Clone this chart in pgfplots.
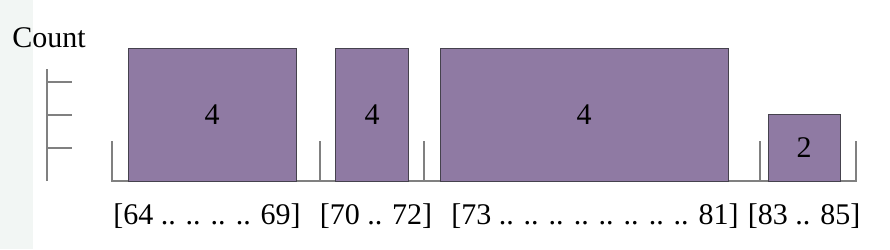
\documentclass[border=0pt]{standalone}
\usepackage{pgfplots}
\pgfplotsset{compat=1.18}
\usepackage{fontspec}
\setmainfont{Liberation Serif}
\definecolor{barfill}{HTML}{8F7AA3}
\definecolor{bardraw}{HTML}{45424D}
\definecolor{axgray}{HTML}{808080}
\definecolor{strip}{HTML}{F2F6F4}
\newcommand{\bigf}{\fontsize{30}{36}\selectfont}
\begin{document}
\begin{tikzpicture}
\begin{axis}[
  scale only axis, width=890pt, height=249pt,
  xmin=0, xmax=890, ymin=-2.0606, ymax=5.4848,
  hide axis, clip=false,
]
% background and left strip
\fill[white] (rel axis cs:0,0) rectangle (rel axis cs:1,1);
\fill[strip] (rel axis cs:0,0) rectangle (axis cs:33,5.4848);
% y axis (no labels)
\addplot[axgray, line width=1.1pt] coordinates {(47,0) (47,3.39)};
\addplot[axgray, line width=1.1pt] coordinates {(47,1) (72,1)};
\addplot[axgray, line width=1.1pt] coordinates {(47,2) (72,2)};
\addplot[axgray, line width=1.1pt] coordinates {(47,3) (72,3)};
% baseline and group separators
\addplot[axgray, line width=1.1pt] coordinates {(112,1.21) (112,0) (856,0) (856,1.21)};
\addplot[axgray, line width=1.1pt] coordinates {(320,0) (320,1.21)};
\addplot[axgray, line width=1.1pt] coordinates {(424,0) (424,1.21)};
\addplot[axgray, line width=1.1pt] coordinates {(760,0) (760,1.21)};
% bars
\addplot[fill=barfill, draw=bardraw, line width=1pt] coordinates {(128,0) (128,4) (296,4) (296,0)} \closedcycle;
\addplot[fill=barfill, draw=bardraw, line width=1pt] coordinates {(335,0) (335,4) (408,4) (408,0)} \closedcycle;
\addplot[fill=barfill, draw=bardraw, line width=1pt] coordinates {(440,0) (440,4) (728,4) (728,0)} \closedcycle;
\addplot[fill=barfill, draw=bardraw, line width=1pt] coordinates {(768,0) (768,2) (840,2) (840,0)} \closedcycle;
% bar labels
\node[font=\bigf] at (axis cs:212,2) {4};
\node[font=\bigf] at (axis cs:372,2) {4};
\node[font=\bigf] at (axis cs:584,2) {4};
\node[font=\bigf] at (axis cs:804,1) {2};
% category labels
\node[font=\bigf, anchor=base, inner sep=0pt] at (axis cs:207,-1.303) {[64 .. .. .. .. 69]};
\node[font=\bigf, anchor=base, inner sep=0pt] at (axis cs:376,-1.303) {[70 .. 72]};
\node[font=\bigf, anchor=base, inner sep=0pt] at (axis cs:595,-1.303) {[73 .. .. .. .. .. .. .. .. 81]};
\node[font=\bigf, anchor=base, inner sep=0pt] at (axis cs:804,-1.303) {[83 .. 85]};
% y title
\node[font=\bigf, anchor=base, inner sep=0pt] at (axis cs:49,4.06) {Count};
\end{axis}
\end{tikzpicture}
\end{document}
